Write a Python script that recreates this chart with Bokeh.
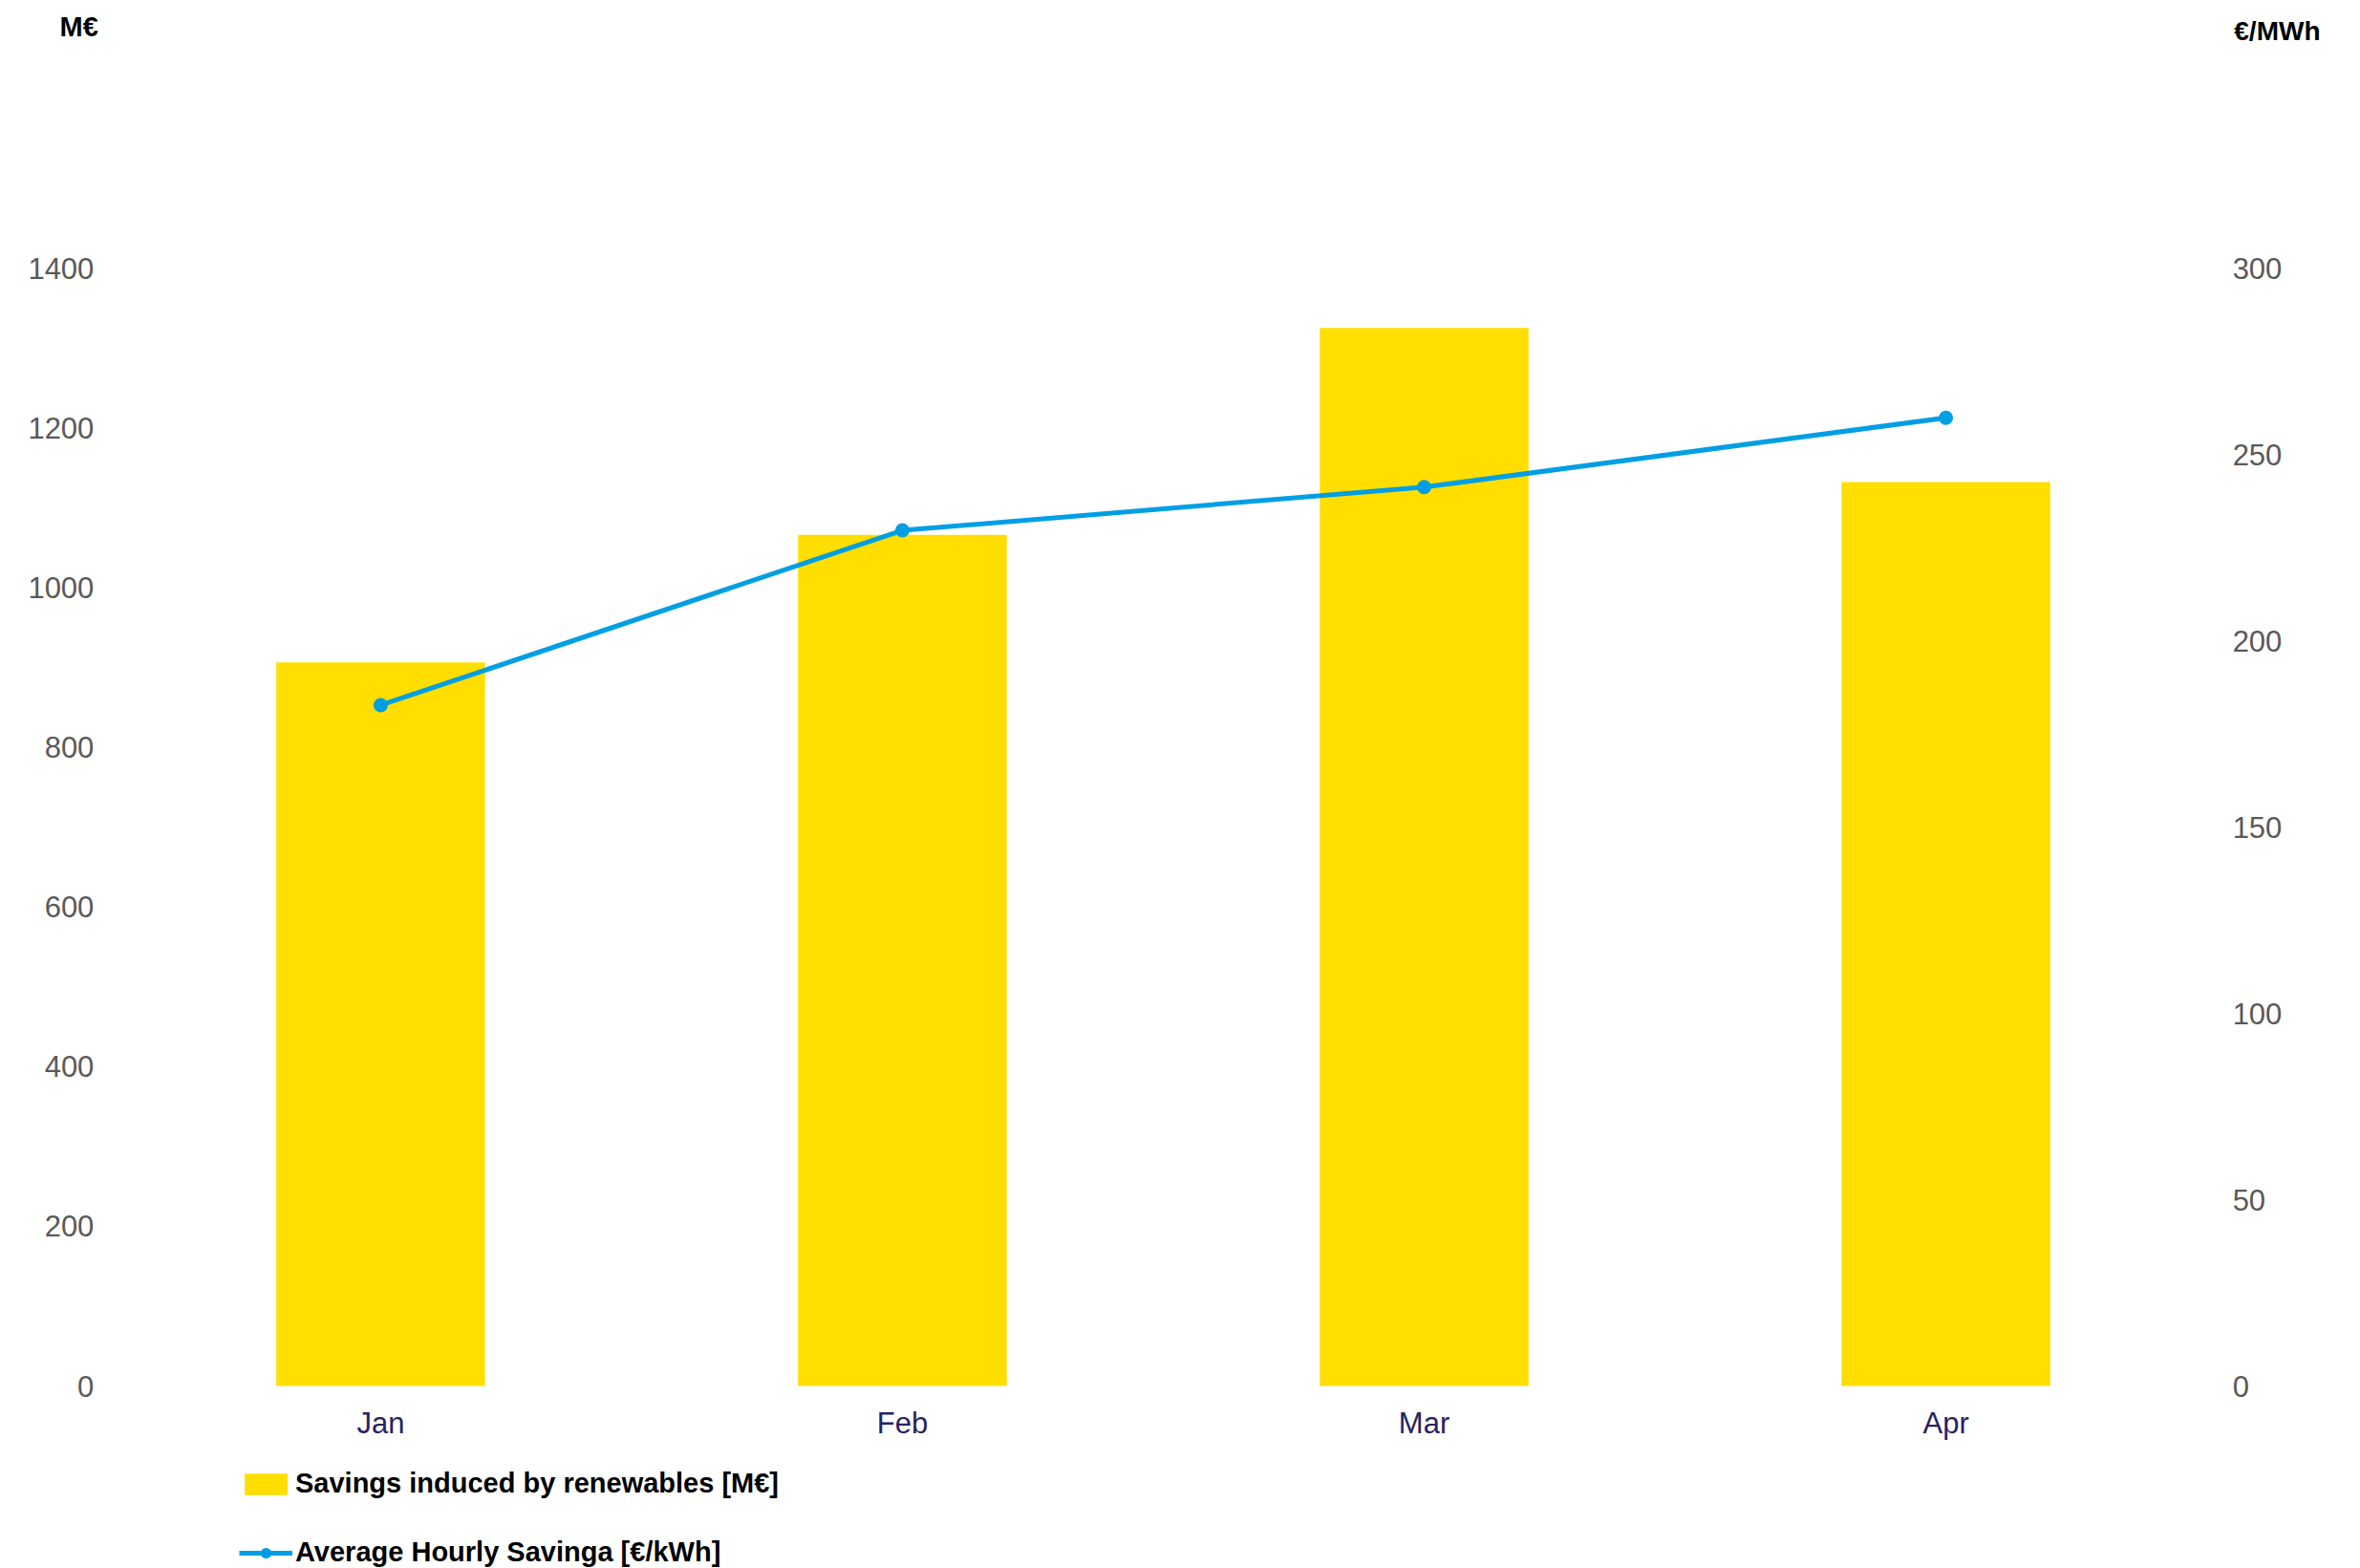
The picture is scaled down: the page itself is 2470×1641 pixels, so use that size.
from bokeh.plotting import figure
from bokeh.models import (ColumnDataSource, Range1d, LinearAxis, CategoricalAxis, FixedTicker,
                          Legend, LegendItem, Label, FactorRange)
from bokeh.embed import file_html
from bokeh.resources import INLINE

months = ["Jan", "Feb", "Mar", "Apr"]
savings_meur = [906, 1066, 1325, 1132]
avg_hourly_savings = [182.7, 229.6, 241.2, 259.8]
left_ticks = [0, 200, 400, 600, 800, 1000, 1200, 1400]
right_ticks = [0, 50, 100, 150, 200, 250, 300]

bar_label = "Savings induced by renewables [M€]"
line_label = "Average Hourly Savinga [€/kWh]"
left_unit = "M€"
right_unit = "€/MWh"

FONT = "Liberation Sans"
YELLOW = "#FFDE00"
BLUE = "#009FE3"
W, H = 2470, 1641

# frame covers the whole canvas; axes are placed at fixed locations inside it
# pixel geometry: y=0 at 1450 px, y=1400 at 280 px
px_per_unit = (1450 - 280) / 1400.0
y_top = 1450 / px_per_unit
y_bottom = -(H - 1450) / px_per_unit
r_scale = 300 / 1400.0

src = ColumnDataSource(dict(m=months, s=savings_meur, a=avg_hourly_savings))

p = figure(x_range=FactorRange(*months, range_padding=0.225, range_padding_units="absolute"),
           y_range=Range1d(y_bottom, y_top),
           width=W, height=H, output_backend="svg", toolbar_location=None,
           min_border_left=2, min_border_right=38, min_border_top=0, min_border_bottom=0,
           x_axis_location=None, y_axis_location=None)
p.outline_line_color = None
p.xgrid.visible = False
p.ygrid.visible = False
p.extra_y_ranges = {"r": Range1d(y_bottom * r_scale, y_top * r_scale)}

bars = p.vbar(x="m", top="s", width=0.4, source=src, fill_color=YELLOW, line_color=None)
ln = p.line(x="m", y="a", source=src, y_range_name="r", line_color=BLUE, line_width=5)
pts = p.scatter(x="m", y="a", source=src, y_range_name="r", size=15,
                fill_color=BLUE, line_color=None)

def style_axis(ax, color):
    ax.axis_line_color = None
    ax.major_tick_line_color = None
    ax.minor_tick_line_color = None
    ax.major_label_text_font = FONT
    ax.major_label_text_font_size = "31px"
    ax.major_label_text_color = color

la = LinearAxis(ticker=FixedTicker(ticks=left_ticks), major_label_standoff=21, fixed_location=0)
style_axis(la, "#595959")
p.add_layout(la, "left")
ra = LinearAxis(y_range_name="r", ticker=FixedTicker(ticks=right_ticks),
                major_label_standoff=21, fixed_location=4)
style_axis(ra, "#595959")
p.add_layout(ra, "right")
xa = CategoricalAxis(major_label_standoff=15, fixed_location=0)
style_axis(xa, "#262262")
p.add_layout(xa, "below")

legend = Legend(items=[LegendItem(label=bar_label, renderers=[bars]),
                       LegendItem(label=line_label, renderers=[ln, pts])],
                location=(248, 0), orientation="vertical",
                glyph_width=56, glyph_height=28, label_height=30, spacing=39,
                label_standoff=3, padding=0, margin=0, border_line_color=None,
                background_fill_alpha=0,
                label_text_font=FONT, label_text_font_size="29px",
                label_text_font_style="bold", label_text_color="#000000")
p.add_layout(legend, "center")

p.add_layout(Label(x=60, y=H - 27, x_units="screen", y_units="screen", text=left_unit,
                   text_font=FONT, text_font_size="29px", text_font_style="bold",
                   text_baseline="middle", text_align="left", text_color="#000000"))
p.add_layout(Label(x=2426, y=H - 32, x_units="screen", y_units="screen", text=right_unit,
                   text_font=FONT, text_font_size="28px", text_font_style="bold",
                   text_baseline="middle", text_align="right", text_color="#000000"))

open("out.html", "w").write(file_html(p, INLINE))
